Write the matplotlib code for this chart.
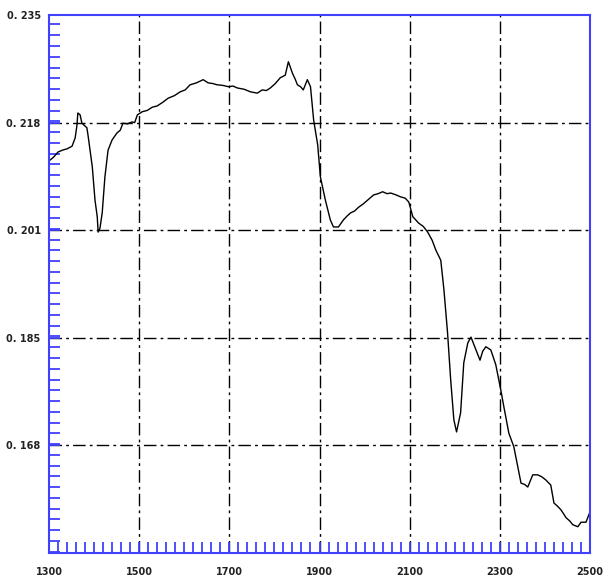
import numpy as np
import matplotlib
matplotlib.use("Agg")
import matplotlib.pyplot as plt
from matplotlib.ticker import FixedLocator, MultipleLocator

# wavelength (nm) and reflectance readings of the spectrum
wavelength = [1300, 1310, 1320, 1330, 1340, 1351, 1358, 1362, 1364, 1369, 1373,
              1384, 1387, 1391, 1396, 1402, 1407, 1409, 1413, 1418, 1424, 1431,
              1440, 1451, 1458, 1464, 1474, 1484, 1490, 1496, 1507, 1518, 1529,
              1540, 1553, 1564, 1578, 1591, 1602, 1613, 1627, 1642, 1653, 1663,
              1673, 1686, 1698, 1708, 1718, 1733, 1747, 1762, 1773, 1782, 1791,
              1802, 1813, 1824, 1831, 1836, 1840, 1846, 1851, 1858, 1864, 1873,
              1880, 1887, 1896, 1902, 1913, 1924, 1931, 1942, 1953, 1961, 1969,
              1978, 1987, 1997, 2007, 2020, 2030, 2040, 2050, 2058, 2070, 2080,
              2090, 2098, 2107, 2120, 2130, 2140, 2150, 2158, 2169, 2176, 2184,
              2191, 2198, 2204, 2213, 2220, 2229, 2236, 2247, 2256, 2262, 2269,
              2280, 2291, 2302, 2309, 2320, 2331, 2340, 2347, 2355, 2362, 2373,
              2384, 2393, 2402, 2413, 2420, 2428, 2436, 2447, 2455, 2462, 2473,
              2480, 2491, 2500]
reflectance = [0.2122, 0.2128, 0.2136, 0.2139, 0.2141, 0.2145, 0.2158, 0.2178,
               0.2197, 0.2194, 0.2181, 0.2174, 0.2160, 0.2139, 0.2113, 0.2061,
               0.2035, 0.2011, 0.2017, 0.2041, 0.2097, 0.2139, 0.2155, 0.2166,
               0.2170, 0.2181, 0.2180, 0.2183, 0.2182, 0.2194, 0.2199, 0.2201,
               0.2206, 0.2208, 0.2214, 0.2220, 0.2224, 0.2230, 0.2233, 0.2241,
               0.2244, 0.2249, 0.2244, 0.2243, 0.2241, 0.2240, 0.2238, 0.2239,
               0.2236, 0.2234, 0.2230, 0.2228, 0.2233, 0.2232, 0.2236, 0.2243,
               0.2252, 0.2256, 0.2277, 0.2267, 0.2259, 0.2250, 0.2241, 0.2238,
               0.2233, 0.2249, 0.2238, 0.2186, 0.2147, 0.2097, 0.2061, 0.2030,
               0.2019, 0.2019, 0.2030, 0.2036, 0.2041, 0.2044, 0.2050, 0.2055,
               0.2061, 0.2069, 0.2071, 0.2074, 0.2071, 0.2072, 0.2069, 0.2066,
               0.2064, 0.2058, 0.2035, 0.2025, 0.2020, 0.2011, 0.1998, 0.1983,
               0.1967, 0.1921, 0.1854, 0.1780, 0.1718, 0.1699, 0.1729, 0.1807,
               0.1838, 0.1847, 0.1827, 0.1811, 0.1825, 0.1832, 0.1827, 0.1804,
               0.1765, 0.1738, 0.1697, 0.1676, 0.1644, 0.1619, 0.1617, 0.1613,
               0.1632, 0.1632, 0.1629, 0.1624, 0.1616, 0.1588, 0.1583, 0.1577,
               0.1565, 0.1560, 0.1554, 0.1551, 0.1558, 0.1558, 0.1574]

x_ticks = [1300, 1500, 1700, 1900, 2100, 2300, 2500]
y_ticks = [0.151, 0.1678, 0.1846, 0.2014, 0.2182, 0.235]
y_labels = ["", "0. 168", "0. 185", "0. 201", "0. 218", "0. 235"]

blue = "#4040ff"

fig = plt.figure(figsize=(6.08, 5.83), dpi=100)
ax = fig.add_axes([0.0806, 0.0515, 0.8898, 0.9228])

ax.plot(wavelength, reflectance, color="black", lw=1.0)

ax.set_xlim(1300, 2500)
ax.set_ylim(0.151, 0.235)

# dash-dot grid on the inner major positions
for xv in x_ticks[1:-1]:
    ax.axvline(xv, color="black", lw=1.0, dashes=(9, 3, 2, 3), zorder=1)
for yv in y_ticks[1:-1]:
    ax.axhline(yv, color="black", lw=1.0, dashes=(9, 3, 2, 3), zorder=1)

ax.xaxis.set_major_locator(FixedLocator(x_ticks))
ax.xaxis.set_minor_locator(MultipleLocator(20))
ax.yaxis.set_major_locator(FixedLocator(y_ticks))
ax.yaxis.set_minor_locator(MultipleLocator(0.00168))
ax.set_xticklabels([str(v) for v in x_ticks])
ax.set_yticklabels(y_labels)

for spine in ax.spines.values():
    spine.set_color(blue)
    spine.set_linewidth(1.5)

ax.tick_params(which="both", direction="in", color=blue, width=1.3, length=8,
               top=False, right=False)
ax.tick_params(axis="x", which="major", pad=10)
ax.tick_params(axis="y", which="major", pad=6)
for lab in ax.get_xticklabels() + ax.get_yticklabels():
    lab.set_family("DejaVu Sans")
    lab.set_fontsize(7)
    lab.set_fontweight("bold")
    lab.set_color("#222222")

fig.savefig("out.png", dpi=100)
